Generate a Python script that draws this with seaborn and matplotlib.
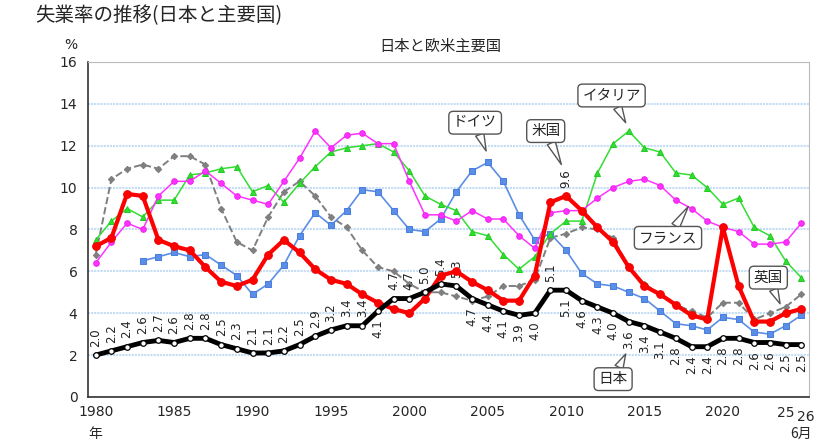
import numpy as np
import pandas as pd
import matplotlib
matplotlib.use('Agg')
import matplotlib.pyplot as plt
import seaborn as sns

# 1980 .. last (46 points)
years = list(range(1980, 2026))
japan = [2.0, 2.2, 2.4, 2.6, 2.7, 2.6, 2.8, 2.8, 2.5, 2.3,
         2.1, 2.1, 2.2, 2.5, 2.9, 3.2, 3.4, 3.4, 4.1, 4.7,
         4.7, 5.0, 5.4, 5.3, 4.7, 4.4, 4.1, 3.9, 4.0, 5.1,
         5.1, 4.6, 4.3, 4.0, 3.6, 3.4, 3.1, 2.8, 2.4, 2.4,
         2.8, 2.8, 2.6, 2.6, 2.5, 2.5]
usa = [7.2, 7.6, 9.7, 9.6, 7.5, 7.2, 7.0, 6.2, 5.5, 5.3,
       5.6, 6.8, 7.5, 6.9, 6.1, 5.6, 5.4, 4.9, 4.5, 4.2,
       4.0, 4.7, 5.8, 6.0, 5.5, 5.1, 4.6, 4.6, 5.8, 9.3,
       9.6, 8.9, 8.1, 7.4, 6.2, 5.3, 4.9, 4.4, 3.9, 3.7,
       8.1, 5.3, 3.6, 3.6, 4.0, 4.2]
germany = [np.nan, np.nan, np.nan, 6.5, 6.7, 6.9, 6.7, 6.8, 6.3, 5.8,
           4.9, 5.4, 6.3, 7.7, 8.8, 8.2, 8.9, 9.9, 9.8, 8.9,
           8.0, 7.9, 8.5, 9.8, 10.8, 11.2, 10.3, 8.7, 7.5, 7.8,
           7.0, 5.9, 5.4, 5.3, 5.0, 4.7, 4.1, 3.5, 3.4, 3.2,
           3.8, 3.7, 3.1, 3.0, 3.4, 3.9]
italy = [7.5, 8.4, 9.0, 8.6, 9.4, 9.4, 10.6, 10.7, 10.9, 11.0,
         9.8, 10.1, 9.3, 10.2, 11.0, 11.7, 11.9, 12.0, 12.1, 11.7,
         10.8, 9.6, 9.2, 8.9, 7.9, 7.7, 6.8, 6.1, 6.7, 7.8,
         8.4, 8.4, 10.7, 12.1, 12.7, 11.9, 11.7, 10.7, 10.6, 10.0,
         9.2, 9.5, 8.1, 7.7, 6.5, 5.7]
france = [6.4, 7.4, 8.3, 8.0, 9.6, 10.3, 10.3, 10.8, 10.2, 9.6,
          9.4, 9.2, 10.3, 11.4, 12.7, 11.9, 12.5, 12.6, 12.1, 12.1,
          10.3, 8.7, 8.7, 8.4, 8.9, 8.5, 8.5, 7.7, 7.1, 8.8,
          8.9, 8.9, 9.5, 10.0, 10.3, 10.4, 10.1, 9.4, 9.0, 8.4,
          8.1, 7.9, 7.3, 7.3, 7.4, 8.3]
uk = [6.8, 10.4, 10.9, 11.1, 10.9, 11.5, 11.5, 11.1, 9.0, 7.4,
      7.0, 8.6, 9.8, 10.3, 9.6, 8.6, 8.1, 7.0, 6.2, 6.0,
      5.4, 5.0, 5.0, 4.8, 4.6, 4.8, 5.3, 5.3, 5.6, 7.6,
      7.8, 8.1, 8.0, 7.6, 6.2, 5.4, 4.9, 4.4, 4.1, 3.8,
      4.5, 4.5, 3.7, 4.0, 4.3, 4.9]

tick_pos = [0, 5, 10, 15, 20, 25, 30, 35, 40]
tick_labels = ['1980', '1985', '1990', '1995', '2000', '2005', '2010', '2015', '2020']

# Japan label placement: True = below point
below = [False] * 18 + [True, False, False, False, False, False] + [True] * 5 + [False] + [True] * 16

sns.set_style('white')
plt.rcParams['font.family'] = ['Noto Sans CJK JP', 'DejaVu Sans']

idx = np.arange(len(years))
df = pd.DataFrame({'idx': idx, 'japan': japan, 'usa': usa, 'germany': germany,
                   'italy': italy, 'france': france, 'uk': uk})

fig = plt.figure(figsize=(8.29, 4.46), dpi=100)
ax = fig.add_axes([0.106, 0.110, 0.870, 0.751])

sns.lineplot(data=df, x='idx', y='uk', ax=ax, color='#7f7f7f', lw=1.4, linestyle='--',
             marker='D', markersize=3.2, markeredgecolor='#7f7f7f', zorder=3)
sns.lineplot(data=df, x='idx', y='germany', ax=ax, color='#5b8ee6', lw=1.2,
             marker='s', markersize=4, markeredgecolor='#4a7fe0', zorder=3)
sns.lineplot(data=df, x='idx', y='italy', ax=ax, color='#33dd33', lw=1.1,
             marker='^', markersize=4.5, markeredgecolor='#22cc22', zorder=3)
sns.lineplot(data=df, x='idx', y='france', ax=ax, color='#ff33ff', lw=1.1,
             marker='o', markersize=4, markeredgecolor='#ee22ee', zorder=3)
sns.lineplot(data=df, x='idx', y='usa', ax=ax, color='#ff0000', lw=3,
             marker='o', markersize=5.5, markeredgecolor='#ee0000', zorder=4)
sns.lineplot(data=df, x='idx', y='japan', ax=ax, color='black', lw=3.5,
             marker='o', markersize=4, markerfacecolor='white', markeredgecolor='black',
             markeredgewidth=0.9, zorder=5)

for i, v in enumerate(japan):
    if below[i]:
        ax.annotate(f'{v:.1f}', (i, v), xytext=(0, -6), textcoords='offset points',
                    rotation=90, ha='center', va='top', fontsize=8.5, family='DejaVu Sans',
                    color='#222222')
    else:
        ax.annotate(f'{v:.1f}', (i, v), xytext=(0, 6), textcoords='offset points',
                    rotation=90, ha='center', va='bottom', fontsize=8.5, family='DejaVu Sans',
                    color='#222222')
ax.annotate(f'{usa[30]:.1f}', (30, usa[30]), xytext=(0, 6), textcoords='offset points',
            rotation=90, ha='center', va='bottom', fontsize=8.5, family='DejaVu Sans',
            color='#222222')

callouts = [('ドイツ', 24.2, 13.1, 24.9, 11.75),
            ('米国', 28.7, 12.7, 29.7, 11.1),
            ('イタリア', 32.9, 14.4, 33.8, 13.1),
            ('フランス', 36.5, 7.6, 37.8, 9.1),
            ('英国', 42.9, 5.7, 43.65, 4.45),
            ('日本', 33.0, 0.85, 33.8, 2.05)]
for name, tx, ty, px, py in callouts:
    ax.annotate(name, (px, py), xytext=(tx, ty), textcoords='data', ha='center', va='center',
                fontsize=10.5, zorder=8,
                bbox=dict(boxstyle='round,pad=0.3', fc='white', ec='#555555', lw=1),
                arrowprops=dict(arrowstyle='wedge,tail_width=0.6', fc='white', ec='#555555',
                                lw=1, shrinkA=0, shrinkB=0))

ax.set_xlim(-0.5, len(years) - 0.5)
ax.set_ylim(0, 16)
ax.set_yticks(range(0, 17, 2))
ax.set_yticklabels([str(v) for v in range(0, 17, 2)], fontsize=10, family='DejaVu Sans')
ax.set_xticks(tick_pos)
ax.set_xticklabels(tick_labels, fontsize=10, family='DejaVu Sans')
ax.set_xticks(np.arange(-0.5, len(years), 1.0), minor=True)
ax.tick_params(axis='x', which='major', length=0, pad=6)
ax.tick_params(axis='x', which='minor', direction='in', length=4, width=1, color='#333333')
ax.tick_params(axis='y', which='major', direction='out', length=4, width=1, color='#333333')
ax.yaxis.grid(True, color='#c5dcf5', lw=1.5, linestyle=(0, (1, 0.5)))
ax.set_axisbelow(True)
ax.set_xlabel('')
ax.set_ylabel('')
for s in ['left', 'bottom']:
    ax.spines[s].set_color('#333333')
    ax.spines[s].set_linewidth(1.2)
for s in ['top', 'right']:
    ax.spines[s].set_color('#bbbbbb')

ax.text(44, -0.45, '25', ha='center', va='top', fontsize=10, family='DejaVu Sans')
ax.text(45.3, -0.6, '26', ha='center', va='top', fontsize=10, family='DejaVu Sans')
ax.text(45.0, -1.45, '6月', ha='center', va='top', fontsize=10)
ax.text(0, -1.45, '年', ha='center', va='top', fontsize=10)

fig.text(0.042, 0.965, '失業率の推移(日本と主要国)', ha='left', va='center', fontsize=14)
fig.text(0.531, 0.895, '日本と欧米主要国', ha='center', va='center', fontsize=11)
fig.text(0.085, 0.900, '%', ha='center', va='center', fontsize=10, family='DejaVu Sans')

fig.savefig('out.png', dpi=100)
